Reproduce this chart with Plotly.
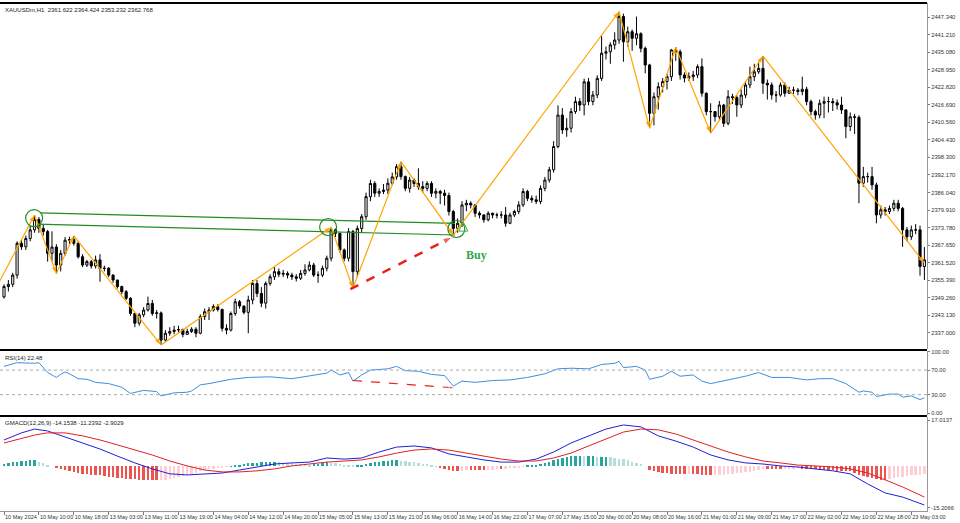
import plotly.graph_objects as go

# ---------------- data ----------------
time_labels = ["10 May 2024", "10 May 10:00", "10 May 18:00", "13 May 03:00", "13 May 11:00",
               "13 May 19:00", "14 May 04:00", "14 May 12:00", "14 May 20:00", "15 May 05:00",
               "15 May 13:00", "15 May 21:00", "16 May 06:00", "16 May 14:00", "16 May 22:00",
               "17 May 07:00", "17 May 15:00", "20 May 00:00", "20 May 08:00", "20 May 16:00",
               "21 May 01:00", "21 May 09:00", "21 May 17:00", "22 May 02:00", "22 May 10:00",
               "22 May 18:00", "23 May 03:00"]
label_bars = [0, 8, 16, 24, 32, 40, 48, 56, 64, 72, 80, 88, 96, 104, 112, 120, 128, 136, 144,
              152, 160, 168, 176, 184, 192, 200, 208]

first_open = 2349.6
closes = [
    2353.2, 2354.0, 2357.2, 2368.3, 2367.1, 2370.0, 2373.0, 2376.6, 2373.5, 2372.4,
    2364.8, 2367.0, 2360.7, 2364.8, 2369.4, 2369.6, 2368.3, 2363.6, 2360.7, 2361.9,
    2360.4, 2362.5, 2359.5, 2359.6, 2357.2, 2355.5, 2353.2, 2351.4, 2349.1, 2343.8,
    2340.4, 2343.3, 2345.0, 2347.3, 2343.8, 2344.0, 2334.5, 2336.9, 2337.5, 2338.0,
    2338.2, 2336.5, 2337.5, 2338.3, 2336.9, 2342.7, 2344.4, 2345.0, 2346.2, 2345.2,
    2338.6, 2338.0, 2343.8, 2347.9, 2346.4, 2344.2, 2348.5, 2354.3, 2350.8, 2347.4,
    2354.3, 2356.6, 2358.4, 2357.5, 2357.8, 2357.2, 2356.6, 2356.1, 2357.8, 2359.0,
    2360.7, 2357.2, 2357.2, 2359.6, 2363.1, 2373.0, 2371.8, 2366.0, 2363.1, 2372.4,
    2358.4, 2373.5, 2377.6, 2384.6, 2389.2, 2385.8, 2386.4, 2386.9, 2389.3, 2391.5,
    2395.1, 2391.6, 2387.5, 2390.4, 2389.2, 2388.1, 2387.5, 2389.2, 2385.8, 2386.4,
    2385.8, 2385.0, 2379.4, 2373.5, 2375.3, 2381.7, 2382.3, 2381.7, 2378.8, 2378.2,
    2376.5, 2378.8, 2378.2, 2378.2, 2378.2, 2375.3, 2378.2, 2379.4, 2381.7, 2386.4,
    2384.0, 2383.5, 2382.9, 2387.5, 2390.4, 2394.0, 2402.1, 2413.1, 2407.9, 2408.5,
    2414.3, 2417.8, 2416.6, 2424.7, 2417.8, 2420.1, 2425.9, 2434.7, 2435.2, 2437.6,
    2439.3, 2447.5, 2438.7, 2442.2, 2439.9, 2441.5, 2436.4, 2430.6, 2413.7, 2419.5,
    2423.0, 2424.8, 2426.5, 2435.8, 2435.2, 2427.1, 2426.0, 2426.5, 2427.1, 2430.0,
    2420.7, 2414.3, 2414.3, 2412.5, 2416.6, 2410.2, 2419.5, 2419.2, 2416.6, 2420.1,
    2423.6, 2426.5, 2428.2, 2429.4, 2424.2, 2423.6, 2420.1, 2420.1, 2423.6, 2420.7,
    2421.8, 2421.8, 2421.3, 2422.1, 2417.8, 2414.3, 2413.1, 2417.2, 2417.8, 2417.8,
    2417.4, 2416.6, 2414.9, 2409.1, 2412.5, 2412.3, 2389.3, 2391.6, 2391.6, 2388.7,
    2378.2, 2380.0, 2379.4, 2380.5, 2382.3, 2380.5, 2373.0, 2370.6, 2373.0, 2373.0,
    2360.2, 2362.5]
highs = [
    2354.0, 2355.5, 2358.0, 2369.0, 2369.5, 2371.0, 2374.5, 2378.2, 2377.5, 2375.0,
    2373.0, 2372.5, 2368.0, 2366.0, 2370.5, 2370.6, 2370.9, 2369.0, 2364.5, 2362.5,
    2362.5, 2364.0, 2364.5, 2360.5, 2360.0, 2357.5, 2355.5, 2353.5, 2352.0, 2349.5,
    2344.0, 2344.0, 2346.0, 2349.7, 2348.5, 2345.0, 2344.5, 2338.0, 2339.0, 2339.5,
    2339.5, 2338.5, 2338.5, 2339.0, 2339.0, 2343.5, 2345.5, 2346.0, 2347.0, 2347.0,
    2345.5, 2340.0, 2344.5, 2349.0, 2348.5, 2346.5, 2350.0, 2355.5, 2355.5, 2353.0,
    2355.0, 2357.5, 2360.0, 2359.5, 2359.0, 2358.5, 2358.0, 2357.5, 2359.0, 2361.0,
    2362.0, 2361.5, 2358.5, 2360.5, 2364.0, 2373.9, 2373.5, 2372.0, 2366.5, 2373.6,
    2373.0, 2374.5, 2378.5, 2386.0, 2390.5, 2390.0, 2387.5, 2389.0, 2391.0, 2393.0,
    2396.0, 2396.8, 2392.0, 2391.5, 2391.0, 2394.5, 2390.0, 2390.0, 2390.0, 2387.5,
    2387.0, 2387.0, 2386.0, 2380.0, 2377.0, 2383.0, 2383.5, 2383.0, 2382.0, 2379.5,
    2378.5, 2379.5, 2379.0, 2379.0, 2379.5, 2381.0, 2379.0, 2380.0, 2383.0, 2387.5,
    2387.0, 2385.0, 2385.0, 2388.5, 2391.5, 2395.0, 2404.0, 2416.5, 2415.5, 2412.0,
    2415.5, 2419.5, 2419.0, 2425.8, 2426.0, 2421.5, 2427.0, 2441.0, 2437.0, 2438.5,
    2442.0, 2449.2, 2448.5, 2444.0, 2443.0, 2447.5, 2442.0, 2437.0, 2431.0, 2421.0,
    2424.5, 2426.0, 2427.5, 2436.2, 2436.8, 2436.0, 2428.0, 2428.0, 2428.5, 2430.8,
    2432.9, 2421.0, 2417.2, 2414.5, 2418.0, 2417.0, 2421.8, 2420.5, 2420.0, 2422.0,
    2425.0, 2430.0, 2431.0, 2431.7, 2433.7, 2425.5, 2424.5, 2421.5, 2424.5, 2424.5,
    2423.0, 2423.0, 2422.5, 2426.5, 2423.0, 2418.5, 2415.0, 2418.5, 2419.5, 2419.5,
    2419.0, 2418.5, 2419.5, 2415.0, 2414.0, 2413.5, 2413.0, 2395.0, 2393.0, 2395.0,
    2389.5, 2381.5, 2381.0, 2381.5, 2383.5, 2383.5, 2381.0, 2374.0, 2374.5, 2375.0,
    2374.5, 2367.0]
lows = [
    2349.0, 2351.5, 2353.0, 2356.0, 2366.0, 2366.0, 2369.0, 2372.0, 2372.0, 2371.0,
    2361.9, 2362.0, 2357.8, 2358.5, 2364.0, 2368.0, 2367.5, 2363.0, 2360.0, 2360.0,
    2359.5, 2359.5, 2354.9, 2358.5, 2356.5, 2354.5, 2352.5, 2350.5, 2348.5, 2343.0,
    2339.0, 2339.5, 2342.5, 2344.5, 2343.0, 2342.0, 2332.8, 2334.0, 2336.0, 2336.5,
    2337.0, 2335.5, 2336.5, 2337.0, 2335.5, 2336.5, 2341.5, 2341.5, 2344.5, 2344.5,
    2337.5, 2336.5, 2337.5, 2343.0, 2345.5, 2343.5, 2336.9, 2347.0, 2349.5, 2346.0,
    2345.5, 2353.5, 2355.5, 2356.5, 2356.5, 2356.0, 2355.5, 2355.0, 2355.5, 2357.0,
    2358.5, 2356.5, 2354.5, 2356.5, 2358.5, 2362.0, 2370.5, 2365.0, 2362.0, 2362.0,
    2352.6, 2356.5, 2372.0, 2376.5, 2383.0, 2384.5, 2384.5, 2385.5, 2385.5, 2388.5,
    2390.5, 2390.5, 2386.5, 2386.0, 2388.0, 2387.0, 2386.0, 2386.5, 2384.5, 2384.0,
    2382.0, 2381.5, 2378.0, 2371.2, 2372.0, 2374.0, 2379.5, 2380.5, 2377.5, 2377.0,
    2375.5, 2376.0, 2377.0, 2377.0, 2377.0, 2374.1, 2375.0, 2377.5, 2378.5, 2381.0,
    2383.0, 2382.5, 2382.0, 2382.0, 2386.5, 2389.5, 2393.0, 2401.5, 2406.5, 2405.5,
    2407.0, 2413.5, 2414.5, 2413.0, 2416.5, 2416.5, 2419.0, 2425.0, 2432.5, 2431.0,
    2436.0, 2438.0, 2431.7, 2437.0, 2435.5, 2437.5, 2435.0, 2427.7, 2408.5, 2409.5,
    2415.0, 2421.0, 2422.0, 2425.0, 2432.0, 2425.5, 2424.5, 2425.0, 2425.0, 2426.0,
    2419.5, 2413.0, 2406.8, 2410.8, 2411.5, 2409.0, 2409.5, 2417.0, 2412.5, 2415.5,
    2419.0, 2422.5, 2425.0, 2427.5, 2420.5, 2418.5, 2418.5, 2417.5, 2419.5, 2419.5,
    2420.5, 2420.5, 2420.0, 2420.0, 2416.5, 2413.0, 2411.5, 2412.0, 2412.0, 2414.0,
    2414.5, 2415.0, 2413.5, 2405.0, 2407.5, 2406.5, 2382.3, 2388.0, 2389.5, 2387.0,
    2375.3, 2377.0, 2378.0, 2378.5, 2379.5, 2379.5, 2367.1, 2369.0, 2369.5, 2371.5,
    2357.0, 2355.5]

# ZigZag swing points (bar index, price)
zz_bars = [-3, 7, 12, 16, 36, 75, 80, 91, 103, 141, 148, 154, 162, 174, 211]
zz_prices = [2349.3, 2378.2, 2357.8, 2370.9, 2332.8, 2373.9, 2352.6, 2396.8, 2371.2,
             2449.2, 2408.5, 2436.8, 2406.8, 2433.7, 2361.4]

# green channel lines and circles
upper_line_bars = [8.3, 103.4]
upper_line_prices = [2378.9, 2375.25]
lower_line_bars = [7.6, 103.4]
lower_line_prices = [2375.0, 2371.2]
circle_bars = [6.9, 74.3, 103.7]
circle_prices = [2377.1, 2374.0, 2373.3]
buy_arrow_bar = [105.3]
buy_arrow_price = [2375.7]

# red divergence arrows
div_price_bars = [79.4, 102.8]
div_price_vals = [2352.3, 2370.5]
div_rsi_bars = [80, 103.4]
div_rsi_vals = [53, 41]

# RSI(14)
rsi_bars = [0, 3, 7, 8, 10, 11, 12, 13, 14, 15, 17, 19, 21, 24, 27, 29, 32, 35, 36, 39, 42, 43,
            45, 47, 52, 56, 61, 66, 70, 74, 75, 77, 79, 80, 82, 84, 88, 90, 92, 95, 98, 101,
            103, 105, 108, 112, 116, 120, 124, 127, 130, 134, 137, 140, 141, 142, 145, 147,
            148, 151, 153, 155, 158, 160, 162, 166, 170, 173, 176, 180, 184, 187, 190, 193,
            196, 197, 199, 200, 203, 205, 206, 208, 210, 211]
rsi_vals = [76, 82, 81, 82, 66, 62, 58, 63, 67, 64, 56, 55, 50, 48, 42, 32, 37, 35, 28, 33, 34,
            36, 46, 48, 55, 58, 59, 56, 61, 65, 70, 62, 66, 52, 62, 70, 72, 76, 69, 68, 63, 61,
            44, 52, 50, 53, 54, 58, 64, 72, 73, 72, 79, 81, 84, 74, 76, 70, 55, 60, 68, 60, 62,
            52, 48, 54, 60, 66, 58, 58, 54, 56, 56, 48, 34, 36, 34, 27, 31, 31, 26, 28, 22, 25]

# MACD(12,26,9)
macd_bars = [0, 4, 7, 10, 14, 18, 22, 26, 30, 34, 38, 42, 46, 50, 54, 58, 62, 66, 70, 74, 78,
             82, 86, 90, 94, 98, 102, 106, 110, 114, 118, 122, 126, 130, 134, 138, 142, 146,
             150, 154, 158, 162, 166, 170, 174, 178, 182, 186, 190, 194, 198, 202, 206, 211]
macd_main = [9.7, 12.3, 13.7, 13.0, 10.8, 8.6, 6.4, 3.8, 1.3, -0.9, -2.7, -3.1, -2.7, -2.4,
             -1.3, -0.2, 0.9, 1.3, 1.6, 3.1, 2.7, 3.1, 5.3, 7.1, 7.5, 6.8, 4.6, 3.5, 2.4, 1.6,
             1.6, 2.7, 5.3, 8.6, 11.2, 13.7, 15.2, 14.5, 11.2, 9.3, 7.1, 4.2, 2.4, 1.3, 0.9,
             0.2, -0.2, -0.9, -1.6, -2.7, -6.4, -9.7, -11.2, -14.1]
macd_signal = [8.6, 10.4, 11.5, 12.3, 12.3, 11.2, 9.7, 7.9, 6.0, 4.2, 2.0, 0.2, -1.3, -2.0,
               -2.0, -1.6, -0.9, 0.2, 0.9, 1.6, 2.0, 2.4, 3.5, 4.9, 6.0, 6.4, 6.0, 4.9, 3.8,
               2.7, 2.0, 2.0, 3.1, 4.9, 7.5, 10.1, 12.6, 13.7, 13.4, 11.9, 9.7, 7.5, 5.3, 3.5,
               2.0, 1.3, 0.5, 0.2, -0.2, -0.9, -2.4, -4.9, -7.5, -11.2]
macd_hist = [
    1.0, 1.2, 1.5, 1.8, 2.0, 2.1, 2.2, 2.2, 1.8, 1.2,
    0.6, 0.0, -0.6, -1.0, -1.4, -1.8, -2.1, -2.4, -2.6, -2.8,
    -3.0, -3.2, -3.3, -3.5, -3.7, -3.9, -4.1, -4.3, -4.5, -4.6,
    -4.7, -4.8, -4.9, -5.0, -5.1, -5.1, -5.0, -4.9, -4.7, -4.4,
    -4.0, -3.6, -3.3, -2.8, -2.3, -1.8, -1.4, -1.1, -0.8, -0.6,
    -0.4, -0.2, 0.1, 0.4, 0.7, 0.9, 1.1, 1.3, 1.4, 1.5,
    1.6, 1.7, 1.8, 1.6, 1.4, 1.2, 1.1, 1.0, 0.9, 0.8,
    0.7, 0.8, 1.0, 1.2, 1.5, 1.4, 1.2, 1.0, 0.7, 0.6,
    0.4, 0.6, 0.7, 1.0, 1.3, 1.6, 1.8, 2.0, 2.1, 2.2,
    2.2, 2.1, 1.9, 1.7, 1.5, 1.3, 1.0, 0.8, 0.4, 0.1,
    -0.3, -0.8, -1.4, -1.6, -1.6, -1.5, -1.4, -1.4, -1.4, -1.4,
    -1.4, -1.3, -1.2, -1.1, -1.1, -0.9, -0.7, -0.5, -0.4, -0.1,
    0.2, 0.5, 0.7, 1.0, 1.4, 1.8, 2.2, 2.7, 3.1, 3.4,
    3.7, 3.8, 3.8, 3.7, 3.7, 3.7, 3.6, 3.6, 3.6, 3.4,
    3.2, 2.9, 2.6, 2.2, 1.7, 1.2, 0.8, 0.0, -1.2, -1.8,
    -2.2, -2.4, -2.5, -2.6, -2.6, -2.7, -2.7, -2.6, -2.6, -2.8,
    -3.0, -3.2, -3.3, -3.2, -3.1, -3.0, -2.9, -2.7, -2.5, -2.4,
    -2.2, -1.9, -1.6, -1.3, -1.1, -1.1, -1.1, -1.1, -1.1, -1.0,
    -0.9, -0.8, -0.7, -0.8, -0.9, -1.0, -1.1, -1.2, -1.3, -1.3,
    -1.4, -1.5, -1.6, -1.7, -1.8, -2.4, -3.0, -3.5, -4.0, -4.3,
    -4.6, -4.8, -4.8, -4.6, -4.3, -4.0, -3.7, -3.5, -3.3, -3.1,
    -3.0, -2.9]

price_ticks = [2337.000, 2343.130, 2349.260, 2355.390, 2361.520, 2367.650, 2373.780,
               2379.910, 2386.040, 2392.170, 2398.300, 2404.430, 2410.560, 2416.690,
               2422.820, 2428.950, 2435.080, 2441.210, 2447.340]
rsi_ticks = [0, 30, 70, 100]
macd_ticks = [-15.2066, 17.0137]

header_text = "XAUUSDm,H1  2361.622 2364.424 2353.232 2362.768"
rsi_text = "RSI(14) 22.48"
macd_text = "GMACD(12,26,9) -14.1538 -11.2392 -2.9029"

# ---------------- derived ----------------
bars = list(range(len(closes)))
opens = [first_open] + closes[:-1]

hist_colors = []
for i, v in enumerate(macd_hist):
    prev = macd_hist[i - 1] if i > 0 else v
    if v >= 0:
        hist_colors.append("#26a69a" if v >= prev else "#b2dfdb")
    else:
        hist_colors.append("#ef5350" if v <= prev else "#ffcdd2")

ORANGE = "#FFA500"
GREEN = "#228B22"
RED = "#E8221B"
FONT = "Liberation Sans"

fig = go.Figure()

fig.add_trace(go.Candlestick(
    x=bars, open=opens, high=highs, low=lows, close=closes,
    increasing=dict(line=dict(color="black", width=1), fillcolor="white"),
    decreasing=dict(line=dict(color="black", width=1), fillcolor="black"),
    whiskerwidth=0, hoverinfo="skip", xaxis="x", yaxis="y"))

fig.add_trace(go.Scatter(x=upper_line_bars, y=upper_line_prices, mode="lines",
                         line=dict(color=GREEN, width=1.2), hoverinfo="skip"))
fig.add_trace(go.Scatter(x=lower_line_bars, y=lower_line_prices, mode="lines",
                         line=dict(color=GREEN, width=1.2), hoverinfo="skip"))

fig.add_trace(go.Scatter(x=zz_bars, y=zz_prices, mode="lines+markers",
                         line=dict(color=ORANGE, width=1.2),
                         marker=dict(symbol="arrow", size=7, angleref="previous", color=ORANGE),
                         hoverinfo="skip"))

fig.add_trace(go.Scatter(x=circle_bars, y=circle_prices, mode="markers",
                         marker=dict(symbol="circle-open", size=17, color=GREEN,
                                     line=dict(width=1.2, color=GREEN)),
                         hoverinfo="skip"))
fig.add_trace(go.Scatter(x=buy_arrow_bar, y=buy_arrow_price, mode="markers",
                         marker=dict(symbol="arrow-up-open", size=9, color="#3cb043",
                                     line=dict(width=1, color="#3cb043")),
                         hoverinfo="skip"))

fig.add_trace(go.Scatter(x=div_price_bars, y=div_price_vals, mode="lines+markers",
                         line=dict(color=RED, width=2.5, dash="dash"),
                         marker=dict(symbol=["circle", "arrow"], size=[0, 10],
                                     angleref="previous", color=RED),
                         hoverinfo="skip"))

# RSI
fig.add_trace(go.Scatter(x=rsi_bars, y=rsi_vals, mode="lines", yaxis="y2",
                         line=dict(color="#3d8fe0", width=1), hoverinfo="skip"))
fig.add_trace(go.Scatter(x=div_rsi_bars, y=div_rsi_vals, mode="lines+markers", yaxis="y2",
                         line=dict(color=RED, width=1.2, dash="dash"),
                         marker=dict(symbol=["circle", "arrow"], size=[0, 6],
                                     angleref="previous", color=RED),
                         hoverinfo="skip"))

# MACD
fig.add_trace(go.Bar(x=bars, y=macd_hist, yaxis="y3", marker=dict(color=hist_colors, line=dict(width=0)),
                     width=0.55, hoverinfo="skip"))
fig.add_trace(go.Scatter(x=macd_bars, y=macd_main, mode="lines", yaxis="y3",
                         line=dict(color="#1f1fd8", width=1), hoverinfo="skip"))
fig.add_trace(go.Scatter(x=macd_bars, y=macd_signal, mode="lines", yaxis="y3",
                         line=dict(color="#e02020", width=1), hoverinfo="skip"))

axis_common = dict(side="right", anchor="x", showgrid=False, zeroline=False, showline=True,
                   linecolor="#999", linewidth=1, ticks="outside", ticklen=2, tickcolor="#777",
                   tickfont=dict(family=FONT, size=5.8, color="#333"), fixedrange=True,
                   automargin=False)

fig.update_layout(
    width=960, height=523,
    margin=dict(l=0, r=33, t=3, b=12, autoexpand=False),
    paper_bgcolor="white", plot_bgcolor="white",
    showlegend=False, bargap=0,
    xaxis=dict(domain=[0, 1], anchor="y3", range=[-0.92, 211.6],
               tickmode="array", tickvals=label_bars, ticktext=time_labels,
               ticks="outside", ticklen=3, tickcolor="#777", tickangle=0,
               ticklabelposition="outside right", automargin=False,
               tickfont=dict(family=FONT, size=5.5, color="#333"),
               showgrid=False, zeroline=False, showline=True, linecolor="#999",
               rangeslider=dict(visible=False), fixedrange=True),
    yaxis=dict(domain=[0.319, 1], range=[2331.41, 2452.23], tickmode="array",
               tickvals=price_ticks, ticktext=[f"{v:.3f}" for v in price_ticks], **axis_common),
    yaxis2=dict(domain=[0.189, 0.315], range=[-3, 101], tickmode="array",
                tickvals=rsi_ticks, ticktext=[f"{v:.2f}" for v in rsi_ticks], **axis_common),
    yaxis3=dict(domain=[0, 0.185], range=[-16.31, 18.11], tickmode="array",
                tickvals=macd_ticks, ticktext=[f"{v:.4f}" for v in macd_ticks], **axis_common),
)

shapes = []
for yp in [0.3169, 0.187, 1.0]:
    shapes.append(dict(type="line", xref="paper", yref="paper", x0=0, x1=1, y0=yp, y1=yp,
                       line=dict(color="black", width=2)))
for lv in [30, 70]:
    shapes.append(dict(type="line", xref="paper", yref="y2", x0=0, x1=1, y0=lv, y1=lv,
                       line=dict(color="#aaa", width=1, dash="dot")))
fig.update_layout(shapes=shapes)

annotations = [
    dict(text=header_text, xref="paper", yref="paper", x=0.003, y=0.997, xanchor="left",
         yanchor="top", showarrow=False, font=dict(family=FONT, size=6, color="#222")),
    dict(text=rsi_text, xref="paper", yref="paper", x=0.003, y=0.312, xanchor="left",
         yanchor="top", showarrow=False, font=dict(family=FONT, size=6, color="#222")),
    dict(text=macd_text, xref="paper", yref="paper", x=0.003, y=0.183, xanchor="left",
         yanchor="top", showarrow=False, font=dict(family=FONT, size=6, color="#222")),
    dict(text="<b>Buy</b>", xref="x", yref="y", x=108.3, y=2364.2, showarrow=False,
         font=dict(family="Liberation Serif", size=12, color="#2ea84a")),
]
fig.update_layout(annotations=annotations)

fig.write_html("out.html", config={"displayModeBar": False},
               post_script="document.body.style.margin='0';document.body.style.overflow='hidden';")
